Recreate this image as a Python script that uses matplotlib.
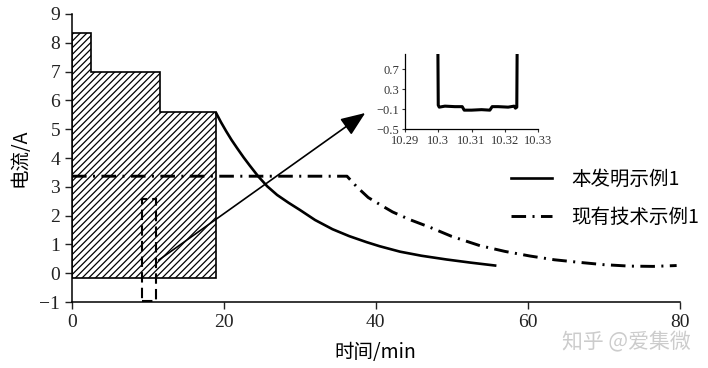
import matplotlib
matplotlib.use("Agg")
import matplotlib.pyplot as plt
from matplotlib.patches import Rectangle

plt.rcParams['font.family'] = ['Liberation Serif', 'Noto Sans CJK SC', 'DejaVu Sans']
plt.rcParams['hatch.linewidth'] = 0.9
CJK = ['Noto Sans CJK SC', 'DejaVu Sans']

# stepped charging profile (hatched area)
step_edges = [0, 2.5, 11.6, 18.9]
step_levels = [8.35, 7.0, 5.6]
step_bottom = -0.15

# 本发明示例1 (solid)
t_inv = [19.0, 19.6, 20.3, 21.0, 21.8, 22.6, 23.4, 24.5, 25.7, 27.0, 28.5, 30.0, 32.0, 34.3,
         36.5, 38.8, 40.5, 43.2, 46.0, 49.3, 52.5, 55.7]
i_inv = [5.55, 5.25, 4.93, 4.63, 4.32, 4.02, 3.74, 3.37, 3.02, 2.72, 2.45, 2.20, 1.85, 1.53,
         1.29, 1.08, 0.94, 0.75, 0.61, 0.48, 0.37, 0.27]

# 现有技术示例1 (dash-dot)
t_old = [0, 36.2, 37.5, 39.0, 40.9, 42.2, 44.5, 47.1, 50.0, 53.7, 57.0, 60.3, 63.5, 66.8,
         70.0, 73.4, 76.5, 79.6]
i_old = [3.37, 3.37, 3.00, 2.63, 2.33, 2.13, 1.86, 1.60, 1.28, 0.96, 0.76, 0.60, 0.47, 0.38,
         0.30, 0.25, 0.24, 0.27]

# zoomed detail (inset)
t_zoom = [10.2999, 10.3, 10.3003, 10.302, 10.305, 10.3072, 10.3078, 10.310, 10.313, 10.3155,
          10.3162, 10.318, 10.321, 10.3228, 10.3232, 10.3236, 10.3237]
i_zoom = [1.0, -0.02, -0.06, -0.04, -0.05, -0.05, -0.12, -0.12, -0.11, -0.12,
          -0.05, -0.05, -0.06, -0.04, -0.08, -0.06, 1.0]

# zoom window marked on the main chart
box_t = [9.2, 11.1]
box_i = [-0.95, 2.57]

fig = plt.figure(figsize=(7.08, 3.68), dpi=100)
ax = fig.add_axes([0.1017, 0.179, 0.8583, 0.783])

xs = [step_edges[0]]
ys = [step_bottom]
for k, lvl in enumerate(step_levels):
    xs += [step_edges[k], step_edges[k + 1]]
    ys += [lvl, lvl]
xs += [step_edges[-1]]
ys += [step_bottom]
ax.fill(xs, ys, facecolor='white', edgecolor='black', hatch='/////', linewidth=1.2, zorder=1)

ax.plot(t_inv, i_inv, color='black', lw=1.9, label='本发明示例1', zorder=3)
ax.plot(t_old, i_old, color='black', lw=2.1, linestyle=(0, (5, 2.2, 0.7, 2.2)),
        label='现有技术示例1', zorder=3)

ax.add_patch(Rectangle((box_t[0], box_i[0]), box_t[1] - box_t[0], box_i[1] - box_i[0],
                       fill=False, edgecolor='black', lw=1.5, linestyle=(0, (5, 2.5)), zorder=4))
ax.annotate('', xy=(38.9, 5.62), xytext=(box_t[1], 0.4),
            arrowprops=dict(arrowstyle='-|>,head_length=0.5,head_width=0.2', color='black',
                            lw=1.2, mutation_scale=30),
            zorder=4)

ax.set_xlim(0, 80)
ax.set_ylim(-1, 9)
ax.set_xticks([0, 20, 40, 60, 80])
ax.set_yticks(range(-1, 10))
ax.spines['top'].set_visible(False)
ax.spines['right'].set_visible(False)
for s in ['left', 'bottom']:
    ax.spines[s].set_linewidth(1.1)
ax.tick_params(labelsize=14, length=5, width=1.0, pad=3.5, colors='#222222')
ax.set_xlabel('时间/min', fontsize=14, labelpad=8, family=CJK)
ax.set_ylabel('电流/A', fontsize=14, labelpad=6, family=CJK)

ax.legend(loc='upper left', bbox_to_anchor=(0.697, 0.588), bbox_transform=fig.transFigure,
          frameon=False, handlelength=2.1, handletextpad=1.0, labelspacing=0.85,
          prop={'family': CJK, 'size': 14})

axin = fig.add_axes([0.572, 0.649, 0.188, 0.204])
axin.plot(t_zoom, i_zoom, color='black', lw=2.2)
axin.set_xlim(10.29, 10.33)
axin.set_ylim(-0.5, 1.0)
axin.set_xticks([10.29, 10.30, 10.31, 10.32, 10.33])
axin.set_xticklabels(['10.29', '10.3', '10.31', '10.32', '10.33'])
axin.set_yticks([-0.5, -0.1, 0.3, 0.7])
axin.set_yticklabels(['−0.5', '−0.1', '0.3', '0.7'])
axin.spines['top'].set_visible(False)
axin.spines['right'].set_visible(False)
for s in ['left', 'bottom']:
    axin.spines[s].set_linewidth(0.9)
axin.tick_params(labelsize=9, length=2.5, width=0.8, pad=1.5, colors='#333333')

fig.text(0.794, 0.053, '知乎 @爱集微', fontsize=15, color='#cccccc', family=CJK)

fig.savefig('out.png', dpi=100)
